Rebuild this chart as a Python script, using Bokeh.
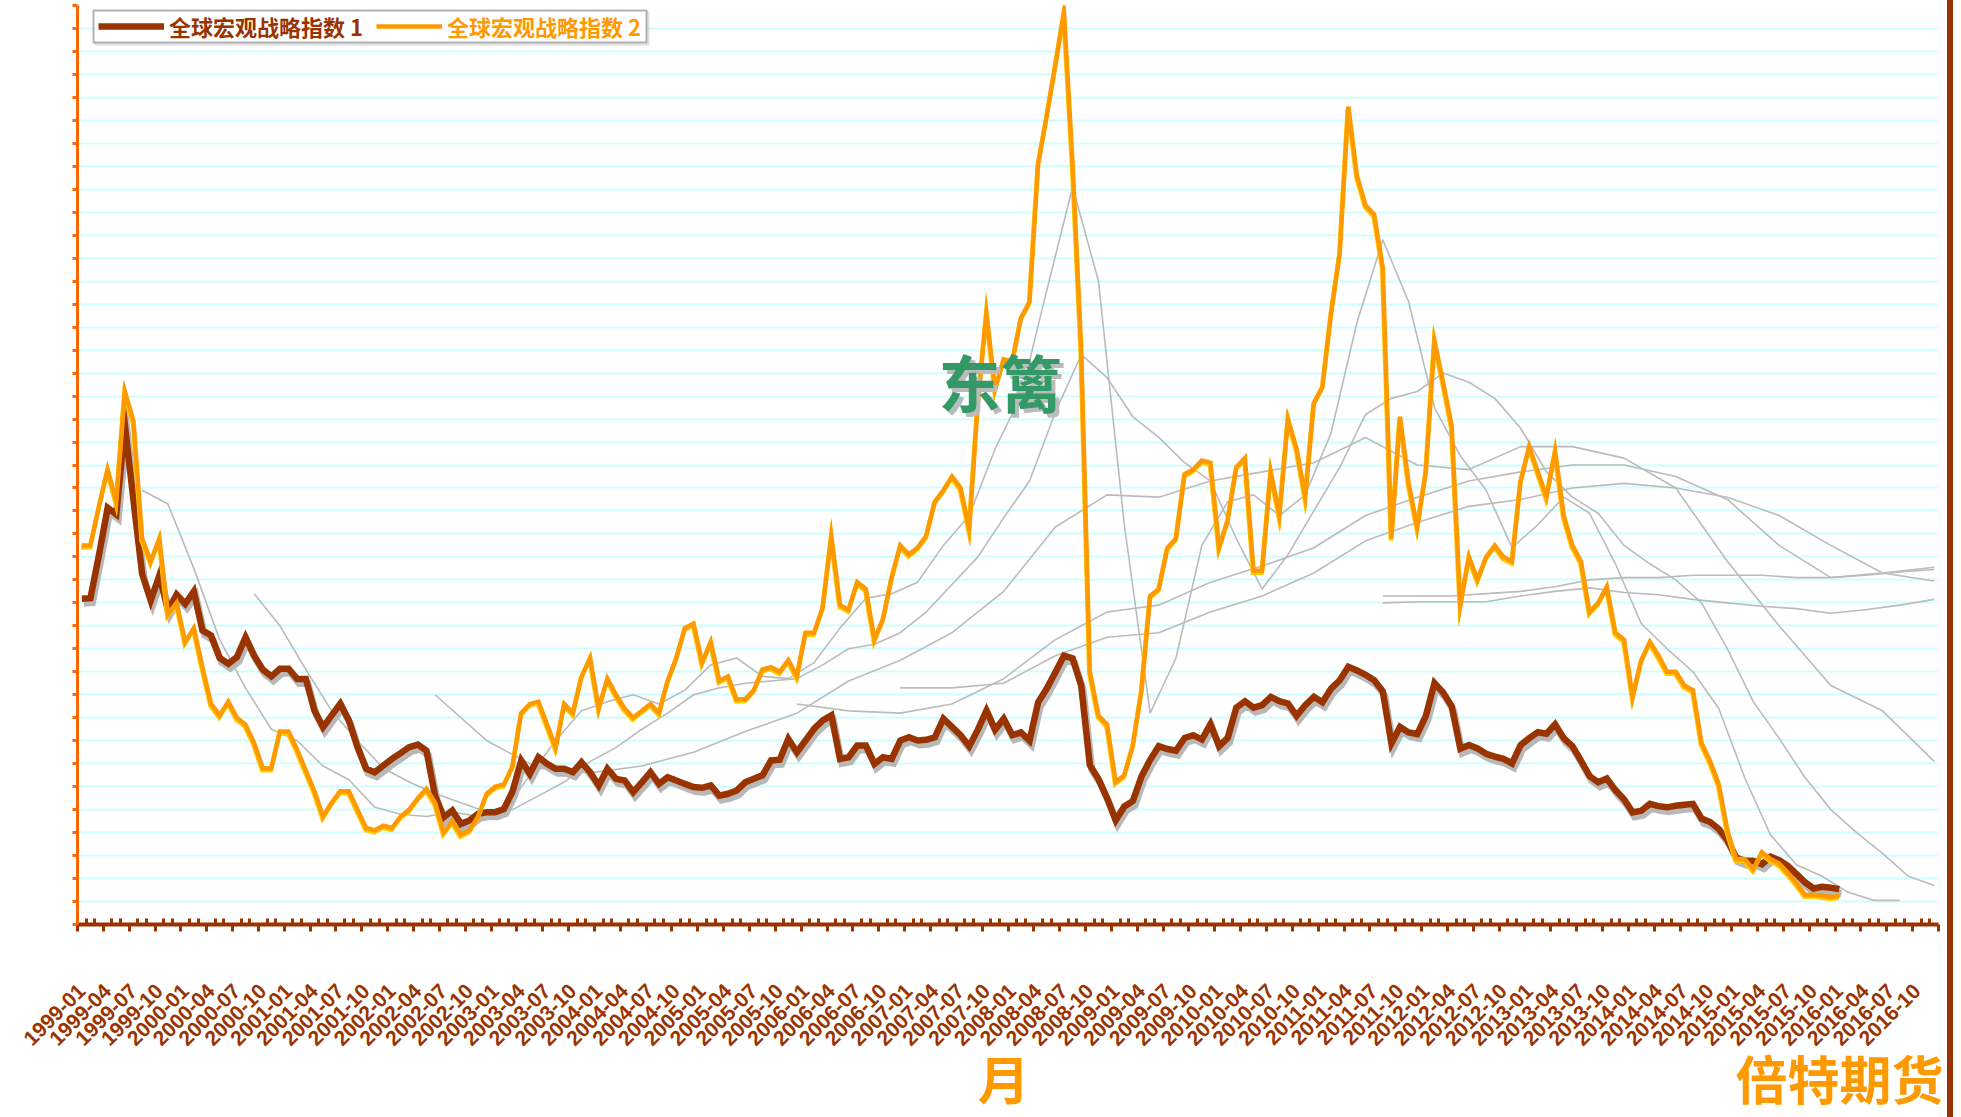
import math
from bokeh.plotting import figure
from bokeh.models import (Range1d, FixedTicker, LinearAxis, Legend, LegendItem,
                          BoxAnnotation, Label, Div, CustomJSTickFormatter)
from bokeh.layouts import row
from bokeh.embed import file_html
from bokeh.resources import INLINE

# ---------------- data ----------------
months = [f"{y}-{m:02d}" for y in range(1999, 2017) for m in range(1, 13)]  # 216 categories
tick_label_idx = list(range(0, 214, 3))            # 1999-01 ... 2016-10

series1_name = "全球宏观战略指数 1"
series2_name = "全球宏观战略指数 2"
x_title = "月"
brand_text = "倍特期货"
center_text = "东篱"

# monthly values from 1999-01 to 2016-01 (no y labels in the original: grid units)
series1 = [
    14.18, 14.2, 16.1, 18.14, 17.85, 21.72, 18.45, 15.26, 14.10, 15.19,
    13.67, 14.36, 13.96, 14.5, 12.8, 12.58, 11.6, 11.35, 11.64, 12.5,
    11.7, 11.1, 10.8, 11.13, 11.13, 10.69, 10.69, 9.31, 8.59, 9.10,
    9.61, 8.88, 7.72, 6.78, 6.63, 6.92, 7.21, 7.46, 7.72, 7.83,
    7.57, 5.6, 4.67, 4.96, 4.38, 4.53, 4.82, 4.89, 4.89, 5.03,
    5.8, 7.14, 6.56, 7.28, 6.99, 6.78, 6.78, 6.63, 7.06, 6.63,
    6.05, 6.78, 6.34, 6.27, 5.76, 6.19, 6.63, 6.12, 6.41, 6.27,
    6.12, 5.98, 5.95, 6.05, 5.61, 5.69, 5.83, 6.19, 6.34, 6.49,
    7.14, 7.17, 8.08, 7.50, 8.01, 8.52, 8.88, 9.10, 7.21, 7.28,
    7.79, 7.79, 6.99, 7.28, 7.21, 8.01, 8.15, 8.01, 8.04, 8.15,
    8.96, 8.60, 8.24, 7.76, 8.48, 9.31, 8.48, 8.96, 8.24, 8.36,
    8.00, 9.67, 10.27, 10.98, 11.70, 11.58, 10.39, 6.93, 6.33, 5.50,
    4.54, 5.14, 5.38, 6.45, 7.17, 7.76, 7.64, 7.57, 8.12, 8.24,
    8.05, 8.72, 7.76, 8.12, 9.44, 9.72, 9.44, 9.55, 9.91, 9.72,
    9.62, 9.08, 9.55, 9.91, 9.67, 10.27, 10.63, 11.22, 11.06, 10.87,
    10.63, 10.15, 7.88, 8.60, 8.36, 8.29, 9.08, 10.51, 10.1, 9.5,
    7.65, 7.81, 7.66, 7.43, 7.31, 7.21, 7.01, 7.81, 8.11, 8.37,
    8.30, 8.71, 8.11, 7.77, 7.13, 6.46, 6.19, 6.35, 5.85, 5.45,
    4.88, 4.95, 5.25, 5.15, 5.10, 5.17, 5.21, 5.25, 4.61, 4.46,
    4.16, 3.67, 2.92, 2.77, 2.77, 2.62, 2.95, 2.80, 2.55, 2.20,
    1.84, 1.57, 1.64, 1.60, 1.54,
]

series2 = [
    16.5, 16.5, 18.2, 19.8, 18.4, 23.2, 21.9, 16.8, 15.8, 16.8,
    13.5, 14.0, 12.3, 12.9, 11.2, 9.6, 9.1, 9.7, 9.0, 8.7,
    7.9, 6.8, 6.8, 8.4, 8.4, 7.6, 6.7, 5.8, 4.7, 5.3,
    5.8, 5.8, 5.0, 4.2, 4.1, 4.3, 4.2, 4.7, 5.0, 5.5,
    5.9, 5.3, 4.0, 4.5, 3.9, 4.1, 4.7, 5.7, 6.0, 6.1,
    6.9, 9.2, 9.6, 9.7, 8.7, 7.7, 9.6, 9.2, 10.8, 11.6,
    9.4, 10.7, 10.0, 9.4, 9.0, 9.3, 9.6, 9.2, 10.6, 11.6,
    12.9, 13.1, 11.4, 12.3, 10.6, 10.8, 9.8, 9.8, 10.2, 11.1,
    11.2, 11.0, 11.5, 10.8, 12.7, 12.7, 13.8, 16.9, 13.9, 13.7,
    14.9, 14.6, 12.4, 13.3, 15.1, 16.5, 16.1, 16.4, 16.9, 18.4,
    18.9, 19.5, 19.0, 17.2, 22.7, 26.6, 23.3, 24.6, 24.5, 26.4,
    27.1, 33.1, 35.2, 37.4, 39.7, 33.1, 25.0, 11.0, 9.1, 8.7,
    6.2, 6.5, 7.8, 10.2, 14.3, 14.6, 16.4, 16.8, 19.6, 19.8,
    20.2, 20.1, 16.4, 17.6, 19.9, 20.3, 15.4, 15.4, 19.7, 17.8,
    22.0, 20.7, 18.6, 22.7, 23.4, 26.6, 29.2, 35.6, 32.6, 31.3,
    30.9, 28.6, 16.8, 22.1, 19.2, 17.3, 19.7, 25.4, 23.6, 21.7,
    13.9, 16.0, 15.0, 16.0, 16.5, 16.0, 15.8, 19.3, 20.8, 19.7,
    18.6, 20.6, 17.8, 16.5, 15.8, 13.6, 14.0, 14.7, 12.7, 12.4,
    9.9, 11.5, 12.3, 11.7, 11.0, 11.0, 10.4, 10.2, 7.9, 7.1,
    6.1, 4.1, 2.85, 2.85, 2.4, 3.15, 2.85, 2.65, 2.25, 1.8,
    1.3, 1.3, 1.25, 1.2, 1.25,
]

# thin grey lines (read at a fixed month step from a start month)
grey_a_start, grey_a_step = "1999-08", 3
grey_a = [18.9, 18.3, 15.5, 12.4, 10.3, 8.5, 8.0, 6.9, 6.3, 5.1,
          4.8, 4.7, 4.9, 4.7, 4.9, 6.5, 8.0, 9.3, 9.7, 10.0,
          9.6, 10.2, 11.3, 11.6, 10.8, 10.7, 11.4, 12.9, 14.2, 14.4,
          14.9, 16.5, 17.8, 20.7, 23.0, 27.6, 32.1, 28.0, 17.4, 9.2,
          11.6, 16.5, 18.4, 18.7, 17.8, 18.7, 21.4, 26.2, 29.8, 27.1,
          22.5, 20.4, 18.9, 16.4, 17.4, 18.6, 17.9, 15.7, 13.1, 12.0,
          11.0, 9.4, 6.4, 3.9, 2.6, 2.1, 1.4, 1.05, 1.05]

grey_b_start, grey_b_step = "2000-09", 3
grey_b = [14.4, 13.0, 11.1, 9.3, 8.0, 6.8, 6.2, 5.7, 5.3, 4.9,
          5.0, 5.6, 6.2, 7.1, 7.7, 8.5, 9.2, 10.0, 10.3, 10.5,
          10.6, 10.7, 11.3, 12.0, 12.2, 12.7, 13.6, 14.8, 16.0, 17.7,
          19.3, 22.3, 24.8, 23.8, 22.1, 21.2, 20.1, 19.3, 16.8, 14.6,
          16.1, 18.0, 19.9, 22.2, 22.9, 23.2, 24.0, 23.6, 22.9, 21.6,
          19.7, 18.6, 17.9, 16.5, 15.7, 15.0, 14.0, 12.0, 9.7, 8.1,
          6.4, 5.0, 4.0, 3.1, 2.1, 1.7]

grey_c_start, grey_c_step = "2002-06", 6
grey_c = [10.0, 8.0, 6.8, 6.6, 6.9, 7.5, 8.4, 9.2, 10.6, 11.5,
          12.7, 14.5, 17.3, 18.7, 18.6, 19.3, 19.7, 20.1, 21.2, 20.0,
          19.8, 20.8, 20.8, 20.3, 19.0, 15.8, 13.0, 10.4, 9.3, 7.1]

grey_d_start, grey_d_step = "2005-12", 6
grey_d = [9.6, 9.3, 9.2, 9.6, 10.7, 12.4, 13.6, 13.9, 14.9, 15.6,
          16.4, 17.8, 18.6, 19.3, 19.7, 20.0, 20.0, 19.5, 18.5, 16.5,
          15.1, 15.3, 15.55]

grey_e_start, grey_e_step = "2006-12", 6
grey_e = [10.3, 10.3, 10.5, 11.7, 12.5, 12.7, 13.6, 14.3, 15.3, 16.7,
          17.5, 18.2, 18.5, 19.0, 19.2, 19.0, 18.6, 17.8, 16.5, 15.3,
          14.95]

grey_f_start, grey_f_step = "2011-08", 4
grey_f = [14.3, 14.3, 14.3, 14.4, 14.5, 14.7, 15.0, 15.1, 15.1, 15.2,
          15.2, 15.2, 15.1, 15.1, 15.2, 15.35, 15.45]

grey_g_start, grey_g_step = "2011-08", 4
grey_g = [14.0, 14.05, 14.05, 14.05, 14.3, 14.5, 14.65, 14.45, 14.35, 14.15,
          14.0, 13.85, 13.75, 13.55, 13.7, 13.9, 14.15]

grey_lines = [(grey_a_start, grey_a_step, grey_a), (grey_b_start, grey_b_step, grey_b),
              (grey_c_start, grey_c_step, grey_c), (grey_d_start, grey_d_step, grey_d),
              (grey_e_start, grey_e_step, grey_e), (grey_f_start, grey_f_step, grey_f),
              (grey_g_start, grey_g_step, grey_g)]

# ---------------- styling constants ----------------
BROWN = "#993300"
ORANGE = "#FF9900"
YELLOW = "#FFCC00"
AXIS_ORANGE = "#FF6600"
GRID = "#CCFFFF"
GREY = "#BBBBBB"

FIG_W, FIG_H = 1947, 1117
LEFT, TOP, BOTTOM, RIGHT = 77, 5, 924, 1938          # frame edges in page pixels
FRAME_W = RIGHT - LEFT
FRAME_H = BOTTOM - TOP
X0, X1 = -0.5, 215.5
Y0, Y1 = 0.0, FRAME_H / 22.975
px_x = FRAME_W / (X1 - X0)      # pixels per month
px_y = FRAME_H / (Y1 - Y0)      # pixels per unit

p = figure(width=FIG_W, height=FIG_H, x_range=Range1d(X0, X1), y_range=Range1d(Y0, Y1),
           output_backend="svg", toolbar_location=None,
           min_border_left=LEFT, min_border_right=FIG_W - RIGHT,
           min_border_top=TOP, min_border_bottom=FIG_H - BOTTOM,
           background_fill_color="white", border_fill_color="white", outline_line_color=None)

# grid
p.xgrid.grid_line_color = None
p.ygrid.ticker = FixedTicker(ticks=list(range(0, 41)))
p.ygrid.grid_line_color = GRID
p.ygrid.grid_line_width = 2

# y axis (no labels)
yax = p.yaxis[0]
yax.ticker = FixedTicker(ticks=list(range(0, 41)), minor_ticks=[])
yax.formatter = CustomJSTickFormatter(code="return '';")
yax.axis_line_color = AXIS_ORANGE
yax.axis_line_width = 3
yax.major_tick_line_color = AXIS_ORANGE
yax.major_tick_line_width = 3
yax.major_tick_out = 5
yax.major_tick_in = 0
yax.minor_tick_line_color = None

# x axis 1: tick marks only (at category boundaries)
xax = p.xaxis[0]
xax.ticker = FixedTicker(ticks=[X0 + 3 * k for k in range(73)],
                         minor_ticks=[X0 + k for k in range(217) if k % 3 != 0])
xax.formatter = CustomJSTickFormatter(code="return '';")
xax.axis_line_color = BROWN
xax.axis_line_width = 4
xax.major_tick_line_color = BROWN
xax.major_tick_line_width = 3
xax.major_tick_out = 7
xax.major_tick_in = 0
xax.minor_tick_line_color = BROWN
xax.minor_tick_line_width = 3
xax.minor_tick_in = 6
xax.minor_tick_out = 0
xax.major_label_standoff = 0

# x axis 2: category labels (at category centres)
ax2 = LinearAxis(ticker=FixedTicker(ticks=tick_label_idx, minor_ticks=[]),
                 major_label_overrides={i: months[i] for i in tick_label_idx})
ax2.axis_line_color = None
ax2.major_tick_line_color = None
ax2.major_tick_out = 0
ax2.major_tick_in = 0
ax2.minor_tick_line_color = None
ax2.major_label_orientation = math.pi / 4
ax2.major_label_text_font = "Liberation Sans"
ax2.major_label_text_font_style = "bold"
ax2.major_label_text_font_size = "21px"
ax2.major_label_text_color = BROWN
ax2.major_label_standoff = 56
p.add_layout(ax2, "below")

# x axis 3: axis title and brand text, side by side under the labels
title_pos = {107: x_title, 204: brand_text}
ax3 = LinearAxis(ticker=FixedTicker(ticks=list(title_pos), minor_ticks=[]),
                 major_label_overrides=title_pos)
ax3.axis_line_color = None
ax3.major_tick_line_color = None
ax3.major_tick_out = 0
ax3.major_tick_in = 0
ax3.minor_tick_line_color = None
ax3.major_label_text_font = "Noto Sans CJK SC"
ax3.major_label_text_font_style = "bold"
ax3.major_label_text_font_size = "52px"
ax3.major_label_text_color = ORANGE
ax3.major_label_standoff = -15
p.add_layout(ax3, "below")

# grey lines (behind the main series)
for start, step, vals in grey_lines:
    s = months.index(start)
    xs = [s + step * k for k in range(len(vals))]
    p.line(xs, vals, line_color=GREY, line_width=1.6)

x_idx = list(range(len(series1)))
# series 1 with its shadow
p.line([x + 2.0 / px_x for x in x_idx], [v - 4.5 / px_y for v in series1],
       line_color="#B8B8B8", line_width=7, line_join="miter")
r1 = p.line(x_idx, series1, line_color=BROWN, line_width=6.5, line_join="miter")
# series 2 with its yellow edge
p.line([x - 0.6 / px_x for x in x_idx], [v - 2.0 / px_y for v in series2],
       line_color=YELLOW, line_width=4.5, line_join="miter")
r2 = p.line(x_idx, series2, line_color=ORANGE, line_width=4.5, line_join="miter")

# helpers: page pixels -> data units (for decorations only)
def dx(px):
    return X0 + (px - LEFT) / px_x

def dy(py):
    return (BOTTOM - py) / px_y

# legend frame
p.add_layout(BoxAnnotation(left=dx(95), right=dx(648), top=dy(12), bottom=dy(44),
                           fill_alpha=0, line_color="#9A9A9A", line_width=2))
p.add_layout(BoxAnnotation(left=dx(93), right=dx(646), top=dy(10), bottom=dy(42),
                           fill_color="white", fill_alpha=1, line_color="black", line_width=2))

def make_legend(item_label, rend, color, loc):
    lg = Legend(items=[LegendItem(label=item_label, renderers=[rend])], location=loc)
    lg.glyph_width = 66
    lg.glyph_height = 20
    lg.padding = 4
    lg.margin = 0
    lg.spacing = 0
    lg.label_standoff = 5
    lg.label_text_font = "Noto Sans CJK SC"
    lg.label_text_font_style = "bold"
    lg.label_text_font_size = "22px"
    lg.label_text_color = color
    lg.border_line_color = None
    lg.background_fill_alpha = 0
    return lg

p.add_layout(make_legend(series1_name, r1, BROWN, (21, BOTTOM - 42)))
p.add_layout(make_legend(series2_name, r2, ORANGE, (299, BOTTOM - 42)))

# centre text with shadow
for col, ox, oy in (("#BBBBBB", 4, -4), ("#339966", 0, 0)):
    p.add_layout(Label(x=dx(938), y=dy(380), text=center_text, text_font="Noto Sans CJK SC",
                       text_font_style="bold", text_font_size="62px", text_color=col,
                       text_align="left", text_baseline="middle", x_offset=ox, y_offset=oy))

bar = Div(width=6, height=FIG_H, margin=0, styles={"background-color": BROWN})
layout = row(p, bar, spacing=0)

open("out.html", "w").write(file_html(layout, INLINE))
